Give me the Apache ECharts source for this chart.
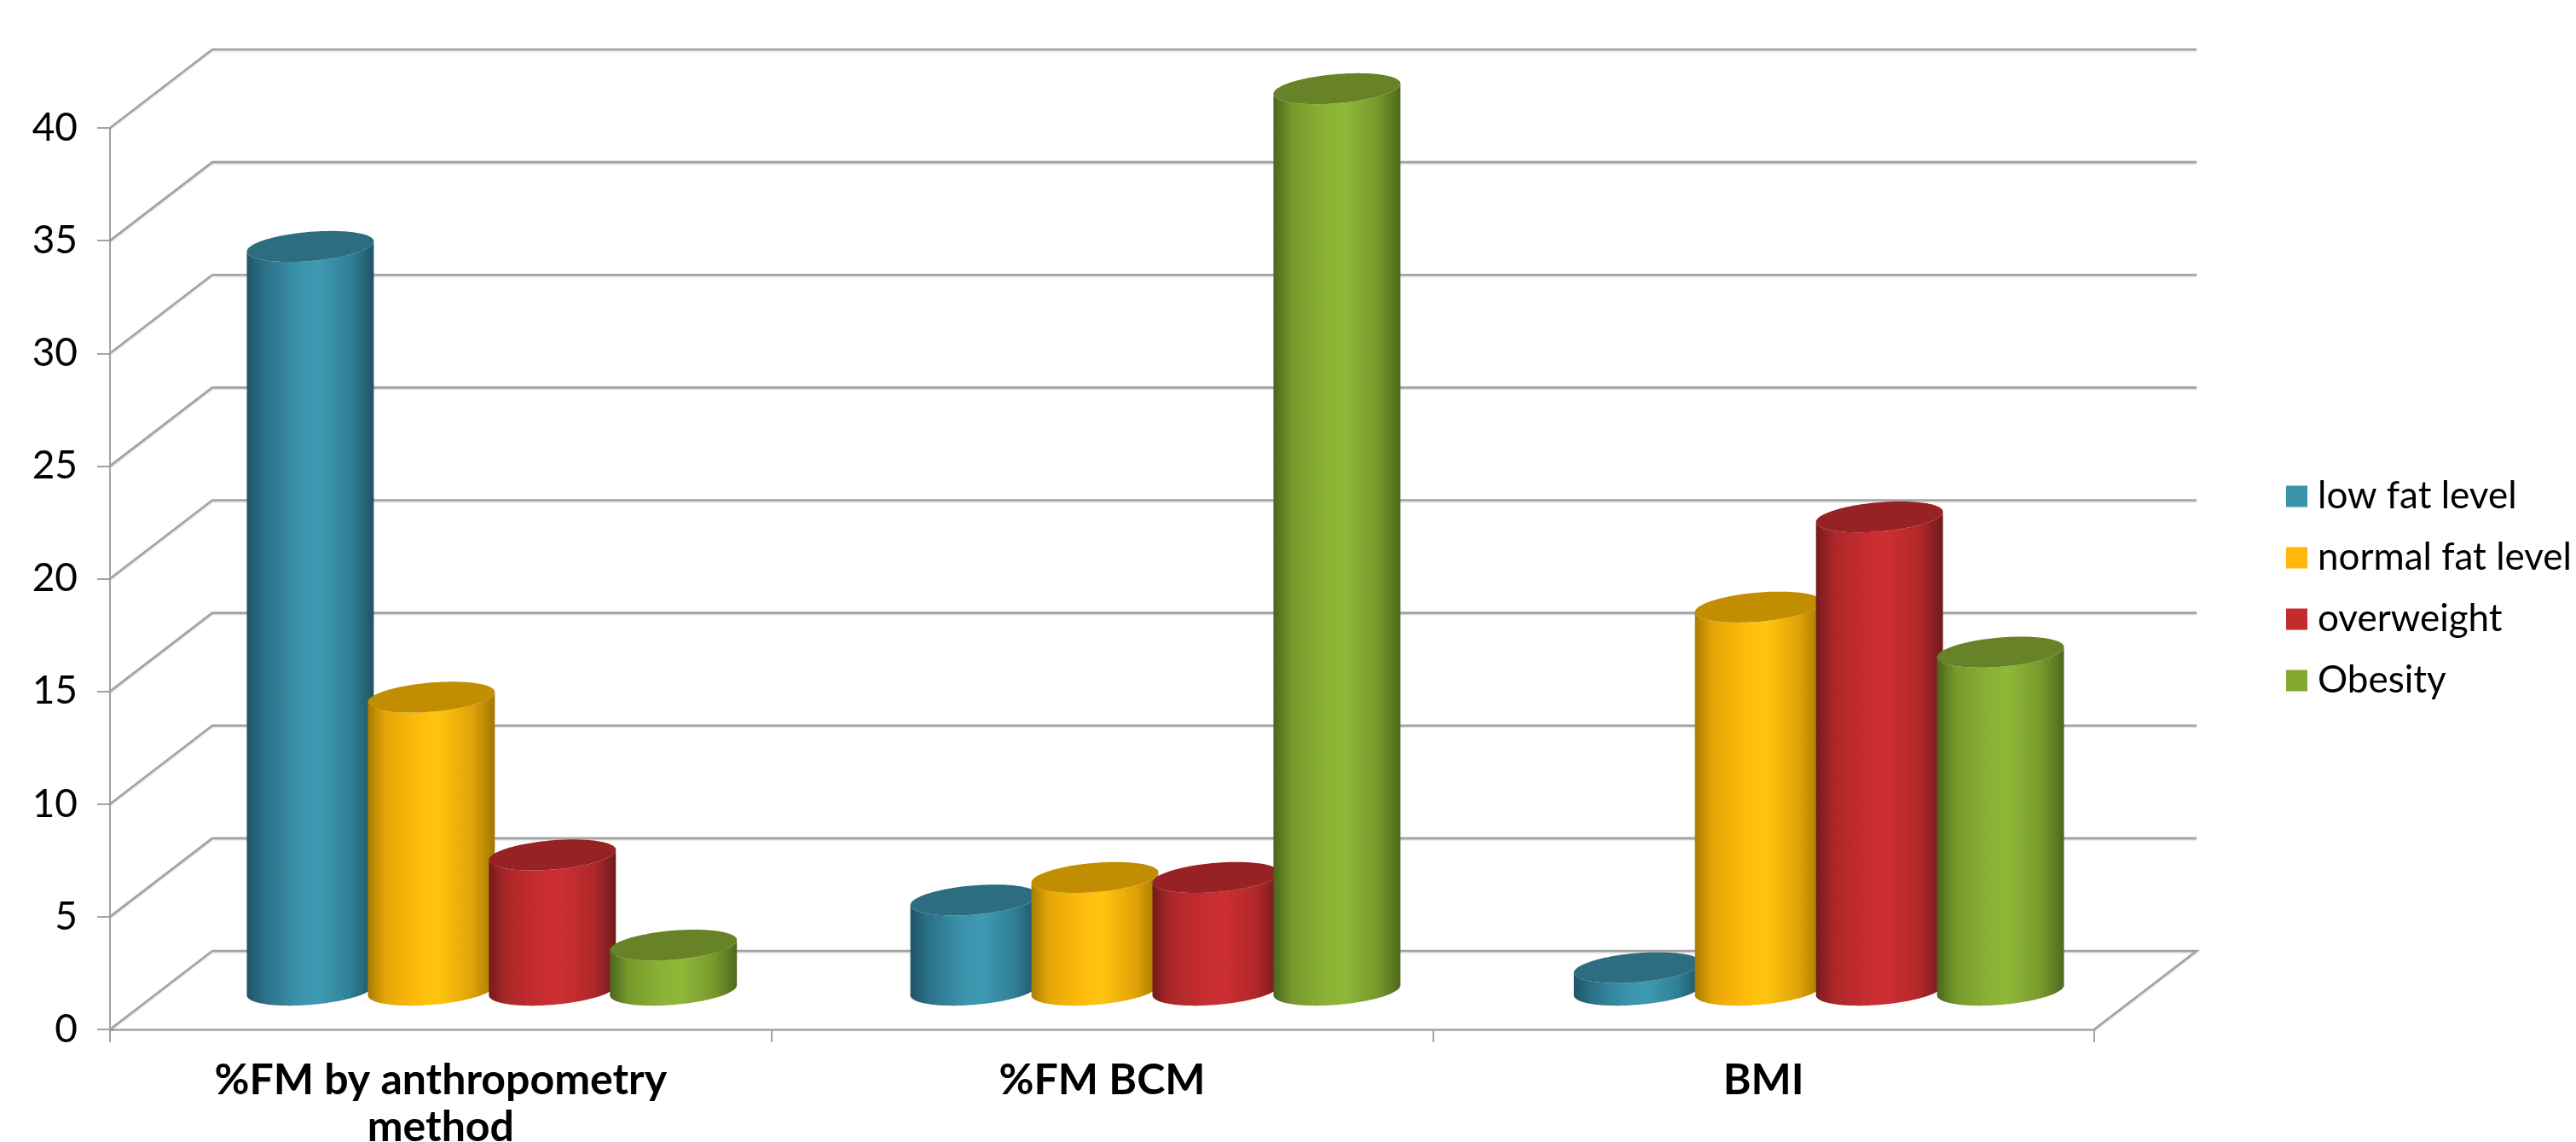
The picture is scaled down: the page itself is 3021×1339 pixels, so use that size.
<!DOCTYPE html>
<html>
<head>
<meta charset="utf-8">
<title>Fat level by method</title>
<script src="https://cdn.jsdelivr.net/npm/echarts@6/dist/echarts.min.js"></script>
<style>html,body{margin:0;padding:0;background:#fff}#chart{width:3021px;height:1339px}</style>
</head>
<body>
<div id="chart"></div>
<script>
// Chart data
const categories = ['%FM by anthropometry\nmethod', '%FM BCM', 'BMI'];
const seriesNames = ['low fat level', 'normal fat level', 'overweight', 'Obesity'];
const lowFat = [33, 4, 1];
const normalFat = [13, 5, 17];
const overweight = [6, 5, 21];
const obesity = [2, 40, 15];
const seriesValues = [lowFat, normalFat, overweight, obesity];
const yTicks = [0, 5, 10, 15, 20, 25, 30, 35, 40];

// Shading per series: side gradient stops, lid colour, legend colour
const shades = [
  { side: ['#1f5667', '#2b7087', '#3a90a9', '#3f9ab4', '#2f7f96', '#1f5464'], lid: '#2c6e80', key: '#3b93ab' },
  { side: ['#a87c00', '#e6a608', '#feb90b', '#ffc510', '#e0a208', '#a27800'], lid: '#c08e00', key: '#ffb70b' },
  { side: ['#741b1d', '#ab2729', '#c52c2f', '#cc2f33', '#b0282a', '#701a1c'], lid: '#962224', key: '#c32b2e' },
  { side: ['#4a651c', '#74982b', '#89b034', '#8fb838', '#77992c', '#4e691d'], lid: '#688227', key: '#84a92f' }
];

// Oblique projection of the floor depth, in pixels
const DEPTH_X = 120;
const DEPTH_Y = 92;
// Each category's cluster sits slightly further right than the last
const CLUSTER_DRIFT = 2.5;
const FONT = 'Lato, "Open Sans", sans-serif';

const chart = echarts.init(document.getElementById('chart'));

// Back wall and side wall lines, one polyline per y tick
function renderWall(params, api) {
  const value = api.value(0);
  const g = params.coordSys;
  const y = api.coord([0, value])[1];
  const left = g.x;
  const right = g.x + g.width;
  const pts = [[left, y], [left + DEPTH_X, y - DEPTH_Y], [right + DEPTH_X, y - DEPTH_Y]];
  if (value === 0) pts.push([right, y]);
  return {
    type: 'polyline',
    shape: { points: pts },
    style: { fill: 'none', stroke: '#a3a3a3', lineWidth: 2.6, shadowColor: 'rgba(0,0,0,0.18)', shadowBlur: 2, shadowOffsetY: 1 }
  };
}

// Skewed ellipse point around a centre: a circle seen obliquely
function rim(cx, cy, a, t) {
  const tilt = 0.08, b = a * 0.23;
  return [cx + a * Math.cos(t), cy + b * Math.sin(t) - tilt * a * Math.cos(t)];
}

function cylinderRenderer(index) {
  return function (params, api) {
    const cat = api.value(0);
    const top = api.coord([cat, api.value(1)]);
    const base = api.coord([cat, 0]);
    const band = api.size([1, 0])[0];
    const step = band * 0.183;
    const radius = band * 0.096;
    const cx = top[0] + (index - 1.5) * step + DEPTH_X / 2 + cat * CLUSTER_DRIFT;
    const topY = top[1] - DEPTH_Y / 2;
    const baseY = base[1] - DEPTH_Y / 2;

    const body = [];
    const lid = [];
    const N = 72;
    for (let i = 0; i <= N; i++) {
      body.push(rim(cx, baseY, radius, Math.PI - Math.PI * i / N));
    }
    for (let i = 0; i <= N; i++) {
      body.push(rim(cx, topY, radius, Math.PI * i / N));
    }
    for (let i = 0; i < N * 2; i++) {
      lid.push(rim(cx, topY, radius, Math.PI * i / N));
    }
    const s = shades[index];
    const stops = [0, 0.14, 0.38, 0.56, 0.82, 1].map((o, i) => ({ offset: o, color: s.side[i] }));
    return {
      type: 'group',
      children: [
        { type: 'polygon', shape: { points: body }, style: { fill: new echarts.graphic.LinearGradient(0, 0, 1, 0, stops) } },
        { type: 'polygon', shape: { points: lid }, style: { fill: s.lid } }
      ]
    };
  };
}

const cylinders = seriesNames.map((name, i) => ({
  name,
  type: 'custom',
  coordinateSystem: 'cartesian2d',
  clip: false,
  z: 5 + i,
  itemStyle: { color: shades[i].key },
  encode: { x: 0, y: 1 },
  data: seriesValues[i].map((v, c) => [c, v]),
  renderItem: cylinderRenderer(i)
}));

chart.setOption({
  animation: false,
  backgroundColor: '#ffffff',
  grid: { left: 129, right: 565, top: 150, bottom: 132, containLabel: false, outerBoundsMode: 'none' },
  legend: {
    orient: 'vertical',
    left: 2676,
    top: 555,
    icon: 'rect',
    itemWidth: 25,
    itemHeight: 25,
    itemGap: 28,
    data: seriesNames,
    textStyle: { fontFamily: FONT, fontSize: 44, color: '#000', padding: [0, 0, 0, 7], lineHeight: 40 }
  },
  xAxis: {
    type: 'category',
    data: categories,
    axisLine: { lineStyle: { color: '#a3a3a3', width: 2.6 } },
    axisTick: { show: true, length: 15, lineStyle: { color: '#a3a3a3', width: 2 } },
    axisLabel: { fontFamily: FONT, fontSize: 50, fontWeight: 'bold', color: '#000', margin: 32, lineHeight: 55, interval: 0 }
  },
  yAxis: {
    type: 'value',
    min: 0,
    max: 40,
    interval: 5,
    splitLine: { show: false },
    axisLine: { show: true, lineStyle: { color: '#a3a3a3', width: 2 } },
    axisTick: { show: true, length: 15, lineStyle: { color: '#a3a3a3', width: 2 } },
    axisLabel: { fontFamily: FONT, fontSize: 46, color: '#000', margin: 38 }
  },
  series: [{
    name: 'wall',
    type: 'custom',
    coordinateSystem: 'cartesian2d',
    clip: false,
    z: 1,
    silent: true,
    encode: { y: 0 },
    data: yTicks.map(v => [v]),
    renderItem: renderWall
  }].concat(cylinders)
});
</script>
</body>
</html>
